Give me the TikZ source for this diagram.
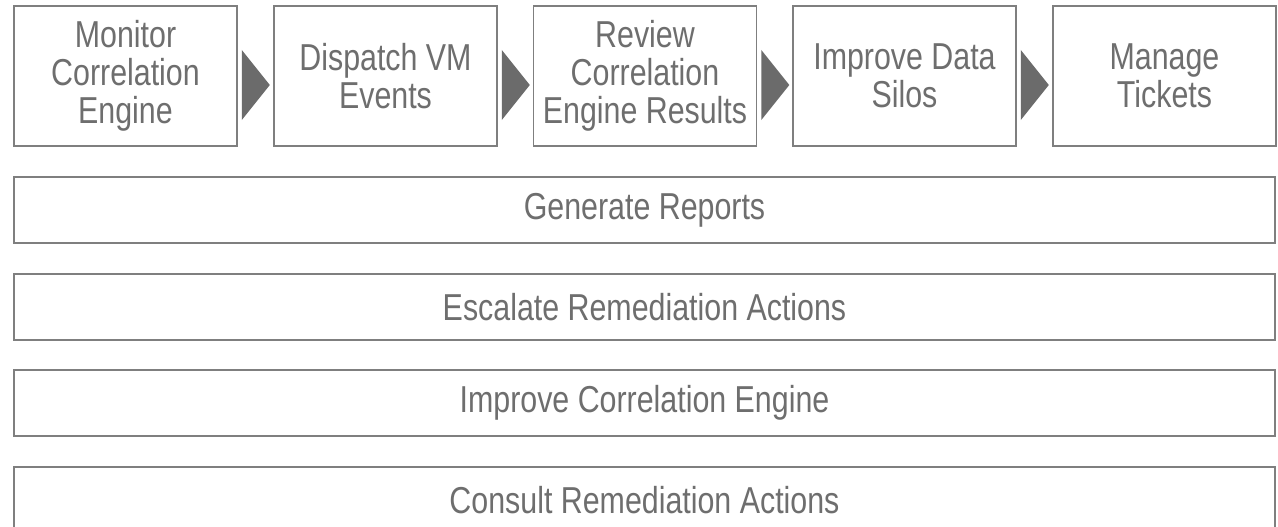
\documentclass[tikz,border=0pt]{standalone}
\usepackage{fontspec}
\setmainfont{Liberation Sans}[FakeStretch=0.81]
\usetikzlibrary{calc}
\definecolor{edgegray}{HTML}{7F7F7F}
\definecolor{textgray}{HTML}{6E6E6E}
\definecolor{chevgray}{HTML}{6B6B6B}
\tikzset{
  stepbox/.style={draw=edgegray, line width=1.6pt, fill=white, text=textgray,
    minimum width=223pt, minimum height=140pt, inner sep=0pt, align=center,
    font=\fontsize{37.5}{38}\selectfont},
  barbox/.style={draw=edgegray, line width=1.6pt, fill=white, text=textgray,
    minimum width=1261pt, minimum height=66pt, inner sep=0pt, align=center,
    font=\fontsize{37.5}{38}\selectfont},
  chevron/.style={fill=chevgray, draw=none}
}
\begin{document}
\begin{tikzpicture}[x=1pt, y=-1pt]
  \useasboundingbox (0,0) rectangle (1278,527);
  \clip (0,0) rectangle (1278,527);

  % process steps
  \node[stepbox] (s1) at (125.5,76) {Monitor\\Correlation\\Engine};
  \node[stepbox] (s2) at (385.5,76) {Dispatch VM\\Events};
  \node[stepbox] (s3) at (645,76)   {Review\\Correlation\\Engine Results};
  \node[stepbox] (s4) at (904.5,76) {Improve Data\\Silos};
  \node[stepbox] (s5) at (1164.5,76) {Manage\\Tickets};

  % chevrons between the steps
  \foreach \a in {s1,s2,s3,s4} {
    \fill[chevron] ($(\a.east)+(4,-26)$) -- ($(\a.east)+(4,44)$)
      -- ($(\a.east)+(32,9)$) -- cycle;
  }

  % ongoing activities
  \node[barbox] (r1) at (644.5,210) {Generate Reports};
  \node[barbox] (r2) at (644.5,307) {Escalate Remediation Actions};
  \node[barbox] (r3) at (644.5,403) {Improve Correlation Engine};
  \node[barbox] (r4) at (644.5,500) {Consult Remediation Actions};
\end{tikzpicture}
\end{document}
